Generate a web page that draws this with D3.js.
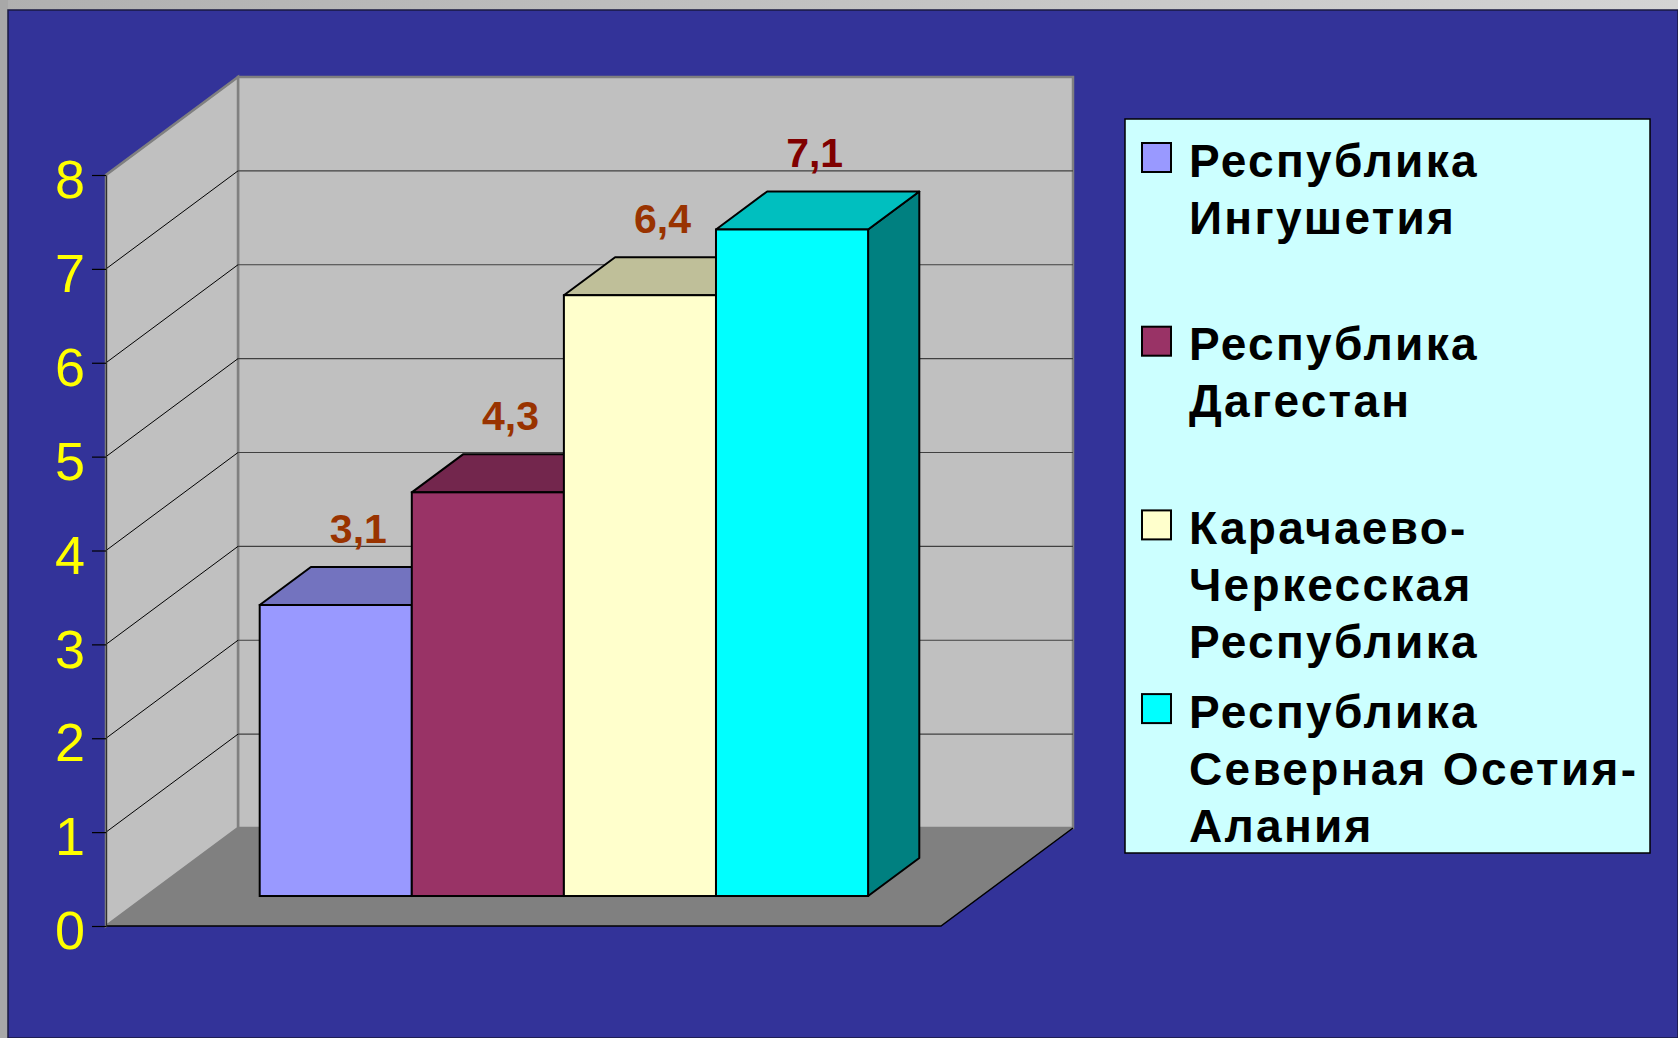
<!DOCTYPE html>
<html lang="ru">
<head>
    <meta charset="UTF-8">
    <title>3D столбчатая диаграмма</title>
    <script src="https://d3js.org/d3.v7.min.js"></script>
    <style>
        body { margin: 0; background: #333399; }
        svg { display: block; }
        text { font-family: Arial, "Liberation Sans", sans-serif; }
    </style>
</head>
<body>
<script>
    // данные
    const series = ["Республика Ингушетия", "Республика Дагестан", "Карачаево-Черкесская Республика", "Республика Северная Осетия-Алания"];
    const legendLines = [
        ["Республика", "Ингушетия"],
        ["Республика", "Дагестан"],
        ["Карачаево-", "Черкесская", "Республика"],
        ["Республика", "Северная Осетия-", "Алания"]
    ];
    const values = [3.1, 4.3, 6.4, 7.1];
    const valueLabels = ["3,1", "4,3", "6,4", "7,1"];
    const colors = ["#9999ff", "#993366", "#ffffcc", "#00ffff"];
    const labelColors = ["#993300", "#993300", "#993300", "#800000"];
    const yTicks = [0, 1, 2, 3, 4, 5, 6, 7, 8];

    let width = 1678, height = 1038;

    /* плоскость стенок: передний край и смещение в глубину */
    let plot = { left: 106, right: 941, top: 175, bottom: 926 };
    let depth = { dx: 132, dy: 98 };
    let barDepth = [0.306, 0.694];   // доля глубины для передней и задней грани столбцов

    let svg = d3.select("body").append("svg")
                .attr("width", width)
                .attr("height", height);

    /* рамка слайда */
    let frameGrad = svg.append("defs").append("linearGradient")
                       .attr("id", "frame").attr("x1", 0).attr("x2", 1);
    frameGrad.append("stop").attr("offset", 0).attr("stop-color", "#b0b0b0");
    frameGrad.append("stop").attr("offset", 1).attr("stop-color", "#d4d4d4");
    svg.append("rect").attr("width", width).attr("height", 10).attr("fill", "url(#frame)");
    svg.append("rect").attr("width", 8).attr("height", height).attr("fill", "#a8a8a8");
    svg.append("rect").attr("x", 8).attr("y", 10).attr("width", width - 8).attr("height", height - 10)
       .attr("fill", "#333399").attr("stroke", "#1a1a40").attr("stroke-width", 1.5);

    let y = d3.scaleLinear().domain([0, 8]).range([plot.bottom, plot.top]);
    let x = d3.scaleBand().domain(series).range([plot.left, plot.right])
              .paddingInner(0).paddingOuter(0.745);

    let ddx = depth.dx, ddy = depth.dy;
    let pts = p => p.map(d => d.join(",")).join(" ");

    /* задняя стенка */
    svg.append("polygon")
       .attr("points", pts([[plot.left + ddx, y(8) - ddy], [plot.right + ddx, y(8) - ddy],
                            [plot.right + ddx, y(0) - ddy], [plot.left + ddx, y(0) - ddy]]))
       .attr("fill", "#c0c0c0").attr("stroke", "#808080").attr("stroke-width", 2.5);

    /* боковая стенка */
    svg.append("polygon")
       .attr("points", pts([[plot.left, y(0)], [plot.left, y(8)],
                            [plot.left + ddx, y(8) - ddy], [plot.left + ddx, y(0) - ddy]]))
       .attr("fill", "#c0c0c0").attr("stroke", "#808080").attr("stroke-width", 2.5);

    /* пол */
    svg.append("polygon")
       .attr("points", pts([[plot.left, y(0)], [plot.right, y(0)],
                            [plot.right + ddx, y(0) - ddy], [plot.left + ddx, y(0) - ddy]]))
       .attr("fill", "#808080");
    svg.append("polyline")
       .attr("points", pts([[plot.left, y(0)], [plot.right, y(0)], [plot.right + ddx, y(0) - ddy]]))
       .attr("fill", "none").attr("stroke", "#000").attr("stroke-width", 1.5);

    /* линии сетки */
    let grid = yTicks.filter(d => d > 0 && d < 8);
    svg.selectAll(".gridBack").data(grid).enter().append("line")
       .attr("class", "gridBack")
       .attr("x1", plot.left + ddx).attr("x2", plot.right + ddx)
       .attr("y1", d => y(d) - ddy).attr("y2", d => y(d) - ddy)
       .attr("stroke", "#404040").attr("stroke-width", 1.2);
    svg.selectAll(".gridSide").data(grid).enter().append("line")
       .attr("class", "gridSide")
       .attr("x1", plot.left).attr("x2", plot.left + ddx)
       .attr("y1", d => y(d)).attr("y2", d => y(d) - ddy)
       .attr("stroke", "#000").attr("stroke-width", 1);

    /* ось Y */
    let yAxis = d3.axisLeft(y).tickValues(yTicks).tickSize(14).tickSizeOuter(0).tickPadding(7);
    let gy = svg.append("g").attr("transform", `translate(${plot.left},0)`).call(yAxis);
    gy.select(".domain").attr("stroke", "#303030").attr("stroke-width", 1.2);
    gy.selectAll(".tick line").attr("stroke", "#000").attr("stroke-width", 1.2);
    gy.selectAll(".tick text")
      .attr("fill", "#ffff00").attr("font-size", 54).attr("dy", "0.42em")
      .style("font-family", "Arial, 'Liberation Sans', sans-serif");

    /* столбцы */
    let f0x = barDepth[0] * ddx, f0y = barDepth[0] * ddy;
    let bdx = (barDepth[1] - barDepth[0]) * ddx, bdy = (barDepth[1] - barDepth[0]) * ddy;
    let shade = (c, k) => { let r = d3.rgb(c); return d3.rgb(r.r * k, r.g * k, r.b * k).toString(); };

    let bars = svg.selectAll(".bar").data(series).enter().append("g").attr("class", "bar");
    bars.each(function (s, i) {
        let g = d3.select(this);
        let x0 = x(s) + f0x, x1 = x0 + x.bandwidth();
        let yt = y(values[i]) - f0y, yb = y(0) - f0y;
        g.append("polygon")
         .attr("points", pts([[x1, yt], [x1 + bdx, yt - bdy], [x1 + bdx, yb - bdy], [x1, yb]]))
         .attr("fill", shade(colors[i], 0.5)).attr("stroke", "#000").attr("stroke-width", 2).attr("stroke-linejoin", "round");
        g.append("polygon")
         .attr("points", pts([[x0, yt], [x1, yt], [x1 + bdx, yt - bdy], [x0 + bdx, yt - bdy]]))
         .attr("fill", shade(colors[i], 0.75)).attr("stroke", "#000").attr("stroke-width", 2).attr("stroke-linejoin", "round");
        g.append("rect")
         .attr("x", x0).attr("y", yt).attr("width", x1 - x0).attr("height", yb - yt)
         .attr("fill", colors[i]).attr("stroke", "#000").attr("stroke-width", 2);
    });

    /* подписи значений */
    svg.selectAll(".numText").data(series).enter().append("text")
       .attr("class", "numText")
       .attr("x", (s, i) => x(s) + f0x + x.bandwidth() / 2 + bdx / 2 - 3)
       .attr("y", (s, i) => y(values[i]) - f0y - bdy - 24)
       .attr("text-anchor", "middle")
       .attr("font-size", 41).attr("font-weight", "bold")
       .attr("fill", (s, i) => labelColors[i])
       .text((s, i) => valueLabels[i]);

    /* легенда */
    let legend = svg.append("g");
    legend.append("rect")
          .attr("x", 1125).attr("y", 119).attr("width", 525).attr("height", 734)
          .attr("fill", "#ccffff").attr("stroke", "#000").attr("stroke-width", 1.5);
    let item = legend.selectAll(".item").data(series).enter().append("g")
                     .attr("class", "item")
                     .attr("transform", (s, i) => `translate(1142, ${176.5 + i * 183.7})`);
    item.append("rect")
        .attr("x", 0).attr("y", -33.5).attr("width", 29).attr("height", 29)
        .attr("fill", (s, i) => colors[i]).attr("stroke", "#000").attr("stroke-width", 2);
    item.each(function (s, i) {
        d3.select(this).selectAll("text").data(legendLines[i]).enter().append("text")
          .attr("x", 47).attr("y", (d, j) => j * 57)
          .attr("font-size", 46).attr("font-weight", "bold")
          .attr("letter-spacing", 2.3)
          .attr("fill", "#000")
          .text(d => d);
    });
</script>
</body>
</html>
